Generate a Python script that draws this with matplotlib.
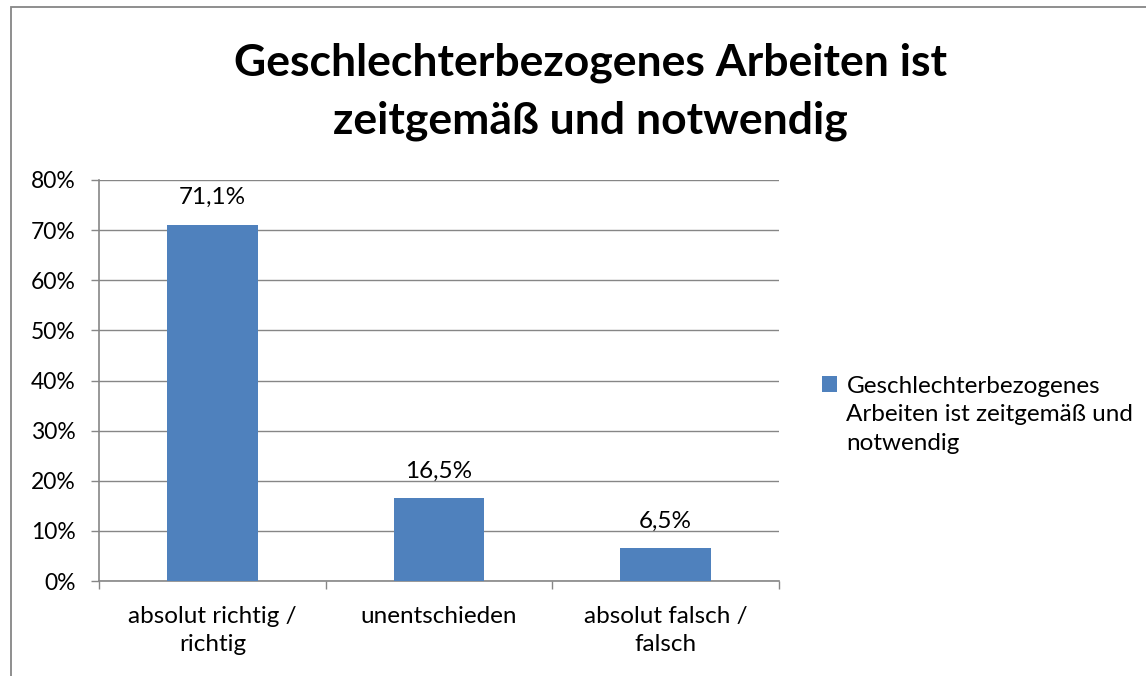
import matplotlib.pyplot as plt
from matplotlib.patches import Rectangle
from matplotlib.ticker import FuncFormatter, MultipleLocator, FixedLocator

categories = ["absolut richtig /\nrichtig", "unentschieden", "absolut falsch /\nfalsch"]
values = [71.1, 16.5, 6.5]
value_labels = ["71,1%", "16,5%", "6,5%"]
series_name = "Geschlechterbezogenes\nArbeiten ist zeitgemäß und\nnotwendig"
title = "Geschlechterbezogenes Arbeiten ist\nzeitgemäß und notwendig"

plt.rcParams['font.family'] = ['Lato', 'DejaVu Sans']
bar_color = '#4F81BD'
axis_gray = '#868686'

W, H = 1146, 676
fig = plt.figure(figsize=(W / 100, H / 100), dpi=100)

# chart frame (cut off at right and bottom like the screenshot)
fig.patches.append(Rectangle((11 / W, -0.2), 1.5, 0.2 + (H - 7) / H,
                             transform=fig.transFigure, fill=False,
                             edgecolor=axis_gray, linewidth=1.3))

ax = fig.add_axes([99 / W, (H - 581) / H, 680 / W, 401 / H])
x = range(len(categories))
bars = ax.bar(x, values, width=0.4, color=bar_color, zorder=3, label=series_name)

ax.set_xlim(-0.5, 2.5)
ax.set_ylim(0, 80)
ax.yaxis.set_major_locator(MultipleLocator(10))
ax.yaxis.set_major_formatter(FuncFormatter(lambda v, p: f"{v:.0f}%"))
ax.grid(axis='y', color=axis_gray, linewidth=1, zorder=0)
ax.set_axisbelow(True)

ax.set_xticks(list(x))
ax.set_xticklabels(categories, fontsize=17.5, linespacing=1.4)
ax.xaxis.set_minor_locator(FixedLocator([-0.5, 0.5, 1.5, 2.5]))
ax.tick_params(axis='x', which='major', length=0, pad=18)
ax.tick_params(axis='x', which='minor', length=5.8, color=axis_gray, width=1)
ax.tick_params(axis='y', length=5.8, color=axis_gray, width=1, labelsize=16.5, pad=11)

for s in ['top', 'right']:
    ax.spines[s].set_visible(False)
for s in ['left', 'bottom']:
    ax.spines[s].set_color(axis_gray)
    ax.spines[s].set_linewidth(1.2)

for b, lab in zip(bars, value_labels):
    ax.annotate(lab, (b.get_x() + b.get_width() / 2, b.get_height()),
                xytext=(0, 12), textcoords='offset points',
                ha='center', va='bottom', fontsize=17.5)

fig.text(590 / W, (H - 92) / H, title, ha='center', va='center',
         fontsize=32, fontweight='bold', linespacing=1.52)

leg = fig.legend(loc='upper left', bbox_to_anchor=(810 / W, (H - 364) / H),
                 frameon=False, fontsize=17.5, handlelength=0.6, handleheight=0.6,
                 handletextpad=0.4, borderpad=0, labelspacing=0)
leg.get_texts()[0].set_linespacing(1.43)
# put the colour square next to the first line of the label
for col in leg._legend_handle_box.get_children():
    for row in col.get_children():
        row.align = 'top'

fig.savefig('out.png', dpi=100)
